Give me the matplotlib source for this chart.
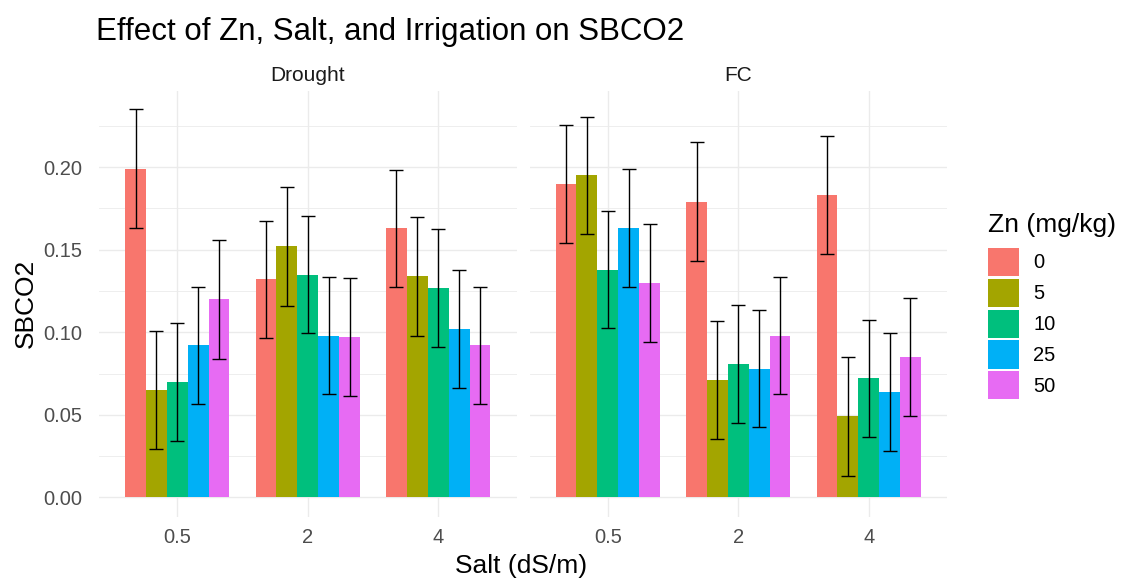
import numpy as np
import matplotlib.pyplot as plt

plt.rcParams['font.family'] = ['Liberation Sans', 'DejaVu Sans']

salt_levels = ["0.5", "2", "4"]
zn_levels = ["0", "5", "10", "25", "50"]
irrigation = ["Drought", "FC"]
zn_colors = ["#F8766D", "#A3A500", "#00BF7D", "#00B0F6", "#E76BF3"]

# mean SBCO2, rows = salt level, columns = Zn level
drought_mean = [[0.199, 0.065, 0.070, 0.092, 0.120],
                [0.132, 0.152, 0.135, 0.098, 0.097],
                [0.163, 0.134, 0.127, 0.102, 0.092]]
fc_mean = [[0.190, 0.195, 0.138, 0.163, 0.130],
           [0.179, 0.071, 0.081, 0.078, 0.098],
           [0.183, 0.049, 0.072, 0.064, 0.085]]

# standard errors, same layout
drought_se = [[0.036, 0.0355, 0.0357, 0.0355, 0.0359],
              [0.0355, 0.0358, 0.0356, 0.0356, 0.0357],
              [0.0356, 0.036, 0.0357, 0.0356, 0.0357]]
fc_se = [[0.0359, 0.0356, 0.0354, 0.0357, 0.0357],
         [0.036, 0.0357, 0.0357, 0.0357, 0.0356],
         [0.0357, 0.036, 0.0357, 0.0357, 0.0355]]

y_ticks = [0.00, 0.05, 0.10, 0.15, 0.20]
y_tick_labels = ["0.00", "0.05", "0.10", "0.15", "0.20"]
y_minor = [0.025, 0.075, 0.125, 0.175, 0.225]

W, H = 1128, 582
fig = plt.figure(figsize=(W / 100, H / 100), dpi=100)

panel_left = [99, 529.5]
panel_w, panel_top, panel_bot = 417.5, 91, 516.6

bar_w = 0.16
axes = []
for k, (name, means, ses) in enumerate(zip(irrigation, [drought_mean, fc_mean], [drought_se, fc_se])):
    ax = fig.add_axes([panel_left[k] / W, 1 - panel_bot / H, panel_w / W, (panel_bot - panel_top) / H])
    means = np.array(means)
    ses = np.array(ses)
    xs = np.arange(len(salt_levels))
    for j, zn in enumerate(zn_levels):
        xpos = xs + (j - 2) * bar_w
        ax.bar(xpos, means[:, j], width=bar_w, color=zn_colors[j], linewidth=0, label=zn, zorder=2)
        ax.errorbar(xpos, means[:, j], yerr=ses[:, j], fmt='none', ecolor='black',
                    elinewidth=1.0, capsize=4.7, capthick=1.0, zorder=3)

    ax.set_xlim(-0.6, 2.6)
    ax.set_ylim(-0.0117, 0.2462)
    ax.set_xticks(xs)
    ax.set_xticklabels(salt_levels)
    ax.set_yticks(y_ticks)
    ax.set_yticklabels(y_tick_labels)
    ax.set_yticks(y_minor, minor=True)
    ax.grid(which='major', color='#EBEBEB', linewidth=1.0)
    ax.grid(which='minor', axis='y', color='#EBEBEB', linewidth=0.6)
    ax.set_axisbelow(True)
    for s in ax.spines.values():
        s.set_visible(False)
    ax.tick_params(which='both', length=0, labelsize=14.5, labelcolor='#4D4D4D')
    ax.tick_params(axis='y', pad=12)
    ax.tick_params(axis='x', pad=8)
    if k > 0:
        ax.tick_params(axis='y', labelleft=False)

    # facet strip label
    ax.text(0.5, 1 + (panel_top - 81) / (panel_bot - panel_top), name, transform=ax.transAxes,
            ha='center', va='baseline', fontsize=15, color='#1A1A1A')
    axes.append(ax)

fig.text(96 / W, 1 - 40 / H, "Effect of Zn, Salt, and Irrigation on SBCO2",
         ha='left', va='baseline', fontsize=22.5, color='black')
fig.text(521.5 / W, 1 - 573 / H, "Salt (dS/m)", ha='center', va='baseline', fontsize=19)
fig.text(33 / W, 1 - 303.5 / H, "SBCO2", ha='center', va='baseline', rotation=90,
         rotation_mode='anchor', fontsize=19)

# legend
fig.text(988 / W, 1 - 232 / H, "Zn (mg/kg)", ha='left', va='baseline', fontsize=19)
handles, labels = axes[0].get_legend_handles_labels()
fig.legend(handles, labels, loc='upper left', bbox_to_anchor=(988 / W, 1 - 247.7 / H),
           frameon=False, fontsize=14.5, handlelength=1.54, handleheight=1.77,
           labelspacing=0.14, handletextpad=0.7, borderpad=0, borderaxespad=0)

fig.savefig("out.png", dpi=100, facecolor='white')
